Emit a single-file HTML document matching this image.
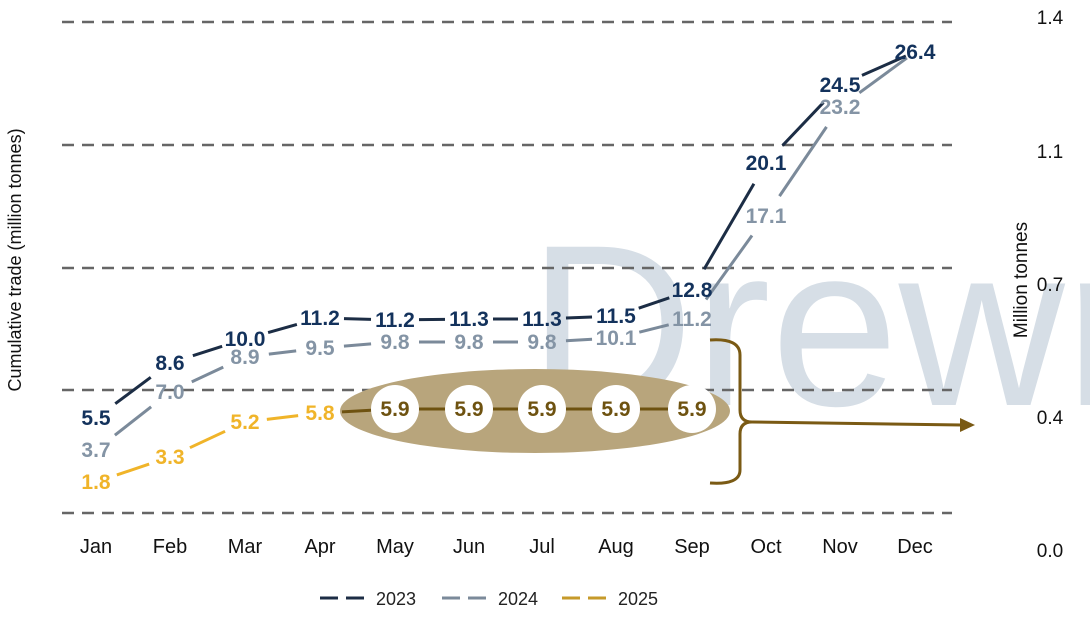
<!DOCTYPE html>
<html><head><meta charset="utf-8"><style>
body{margin:0;background:#fff;width:1090px;height:621px;overflow:hidden;font-family:"Liberation Sans",sans-serif}
svg text{font-family:"Liberation Sans",sans-serif}
</style></head><body>
<svg id="s" width="1090" height="621" xmlns="http://www.w3.org/2000/svg">
<text x="528" y="405" font-size="230" fill="#d6dee6">Drewry</text>
<g stroke="#666" stroke-width="2.5" stroke-dasharray="12,8">
<line x1="62" y1="22" x2="952" y2="22"/><line x1="62" y1="145" x2="952" y2="145"/>
<line x1="62" y1="268" x2="952" y2="268"/><line x1="62" y1="390" x2="952" y2="390"/>
<line x1="62" y1="513" x2="952" y2="513"/></g>
<ellipse cx="535" cy="411" rx="195" ry="42" fill="#b8a57c"/>
<g id="lines"></g>
<g id="labels" font-size="21" font-weight="bold" text-anchor="middle"></g>
<path d="M710 340 Q740 338 740 355 L740 410 Q740 422 752 422 Q740 422 740 434 L740 470 Q740 485 710 483" fill="none" stroke="#7a5a14" stroke-width="3"/>
<line x1="752" y1="422" x2="962" y2="425" stroke="#7a5a14" stroke-width="3"/>
<polygon points="960,418 975,425 960,432" fill="#7a5a14"/>
<g font-size="20" fill="#111" text-anchor="middle">
<text x="96" y="553">Jan</text><text x="170" y="553">Feb</text><text x="245" y="553">Mar</text><text x="320" y="553">Apr</text><text x="395" y="553">May</text><text x="469" y="553">Jun</text><text x="542" y="553">Jul</text><text x="616" y="553">Aug</text><text x="692" y="553">Sep</text><text x="766" y="553">Oct</text><text x="840" y="553">Nov</text><text x="915" y="553">Dec</text>
</g>
<g font-size="19" fill="#111" text-anchor="middle">
<text x="1050" y="24">1.4</text><text x="1050" y="158">1.1</text><text x="1050" y="291">0.7</text><text x="1050" y="424">0.4</text><text x="1050" y="557">0.0</text>
</g>
<text transform="translate(1027,280) rotate(-90)" font-size="19" text-anchor="middle" fill="#111">Million tonnes</text>
<text transform="translate(21,260) rotate(-90)" font-size="18" text-anchor="middle" fill="#111">Cumulative trade (million tonnes)</text>
<g font-size="18" fill="#222">
<line x1="320" y1="598" x2="372" y2="598" stroke="#1c2d45" stroke-width="3" stroke-dasharray="18,8"/><text x="376" y="605">2023</text>
<line x1="442" y1="598" x2="494" y2="598" stroke="#7b8a9a" stroke-width="3" stroke-dasharray="18,8"/><text x="498" y="605">2024</text>
<line x1="562" y1="598" x2="614" y2="598" stroke="#c69a2a" stroke-width="3" stroke-dasharray="18,8"/><text x="618" y="605">2025</text>
</g>
</svg>
<script>
var X=[96,170,245,320,395,469,542,616,692,766,840,915];
var s23=[["5.5",418],["8.6",363],["10.0",339],["11.2",318],["11.2",320],["11.3",319],["11.3",319],["11.5",316],["12.8",290],["20.1",163],["24.5",85],["26.4",52]];
var s24=[["3.7",450],["7.0",392],["8.9",357],["9.5",348],["9.8",342],["9.8",342],["9.8",342],["10.1",338],["11.2",319],["17.1",216],["23.2",107],[null,52]];
var s25=[["1.8",482],["3.3",457],["5.2",422],["5.8",413],["5.9",409],["5.9",409],["5.9",409],["5.9",409],["5.9",409]];
var L=document.getElementById('lines'),T=document.getElementById('labels'),ns="http://www.w3.org/2000/svg";
function el(p,n,a,t){var e=document.createElementNS(ns,n);for(var k in a)e.setAttribute(k,a[k]);if(t)e.textContent=t;p.appendChild(e);return e;}
function seg(d,i,col,g1,g2){
  var x1=X[i],y1=d[i][1],x2=X[i+1],y2=d[i+1][1];
  var dx=x2-x1,dy=y2-y1,len=Math.sqrt(dx*dx+dy*dy),ux=dx/len,uy=dy/len;
  el(L,'line',{x1:x1+ux*g1,y1:y1+uy*g1,x2:x2-ux*g2,y2:y2-uy*g2,stroke:col,'stroke-width':3});
}
function series(d,col,lcol){
 for(var i=0;i<d.length-1;i++) seg(d,i,lcol,24,i+1==11?10:24);
 d.forEach(function(p,i){if(p[0])el(T,'text',{x:X[i],y:p[1]+7,fill:col},p[0]);});
}
series(s23,"#13325c","#1c2d45");
series(s24,"#8494a5","#7b8a9a");
for(var i=0;i<s25.length-1;i++) seg(s25,i,i>=3?"#6e5210":"#f0b429",22,22);
s25.forEach(function(p,i){
 if(i>=4){el(T,'circle',{cx:X[i],cy:409,r:24,fill:"#fff"});el(T,'text',{x:X[i],y:416,fill:"#6e5210"},p[0]);}
 else el(T,'text',{x:X[i],y:p[1]+7,fill:"#f0b429"},p[0]);
});
</script>
</body></html>
